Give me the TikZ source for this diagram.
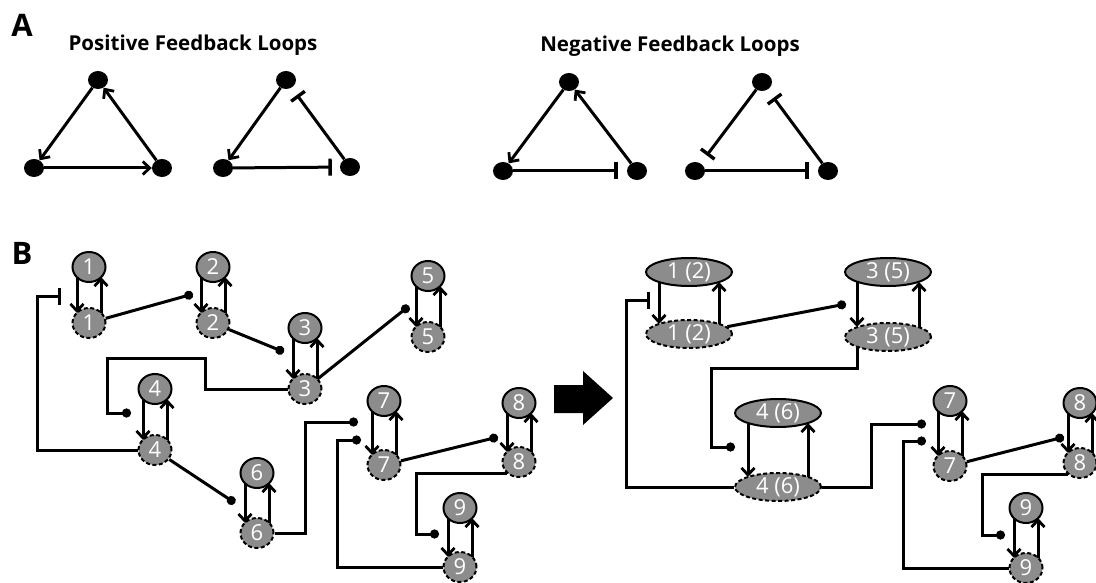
\documentclass[tikz,border=0pt]{standalone}
\usepackage{fontspec}
\setmainfont{Open Sans}
\usetikzlibrary{arrows.meta,shapes.geometric}
\definecolor{nodegray}{RGB}{140,140,140}

% feedback pair: arrow down on the left, arrow up on the right
\newcommand\fbpair[3]{%
  \draw[act] ([shift={(-#3,10)}]#1.center) -- ([shift={(-#3,-10)}]#2.center);
  \draw[act] ([shift={(#3,-10)}]#2.center) -- ([shift={(#3,10)}]#1.center);}

\begin{document}
\begin{tikzpicture}[x=1pt,y=-1pt,
  every node/.style={inner sep=0pt},
  blob/.style={ellipse, fill=black, minimum width=20pt, minimum height=18pt},
  gene/.style={ellipse, draw, line width=2pt, fill=nodegray, text=white,
    minimum width=33pt, minimum height=30pt, font=\fontsize{22}{22}\selectfont},
  prot/.style={gene, dash pattern=on 4pt off 2.5pt},
  wgene/.style={gene, minimum width=86pt, minimum height=28pt},
  wprot/.style={prot, minimum width=86pt, minimum height=28pt},
  act/.style={-{Straight Barb[length=7pt,width=13pt,line width=2.8pt]}, line width=3pt},
  inh/.style={-{Bar[width=17pt,line width=3.4pt]}, line width=3pt},
  bind/.style={-{Circle[length=9pt]}, line width=3pt},
  ttl/.style={font=\fontsize{20.5}{21}\selectfont\bfseries},
  panel/.style={font=\fontsize{31}{31}\selectfont\bfseries}]

\useasboundingbox (0,0) rectangle (1096,583);

% ---------- panel A ----------
\node[panel] (lA) at (22,25) {A};
\node[ttl] (tpos) at (193,45) {Positive Feedback Loops};
\node[ttl] (tneg) at (670,46) {Negative Feedback Loops};

\node[blob] (t1a) at (98,80) {};
\node[blob] (t1b) at (34,168) {};
\node[blob] (t1c) at (162,168) {};
\draw[act] (t1a) -- (t1b);
\draw[act] (t1b) -- (t1c);
\draw[act] (t1c) -- (t1a);

\node[blob] (t2a) at (286,80) {};
\node[blob] (t2b) at (223,168) {};
\node[blob] (t2c) at (350,167) {};
\draw[act] (t2a) -- (t2b);
\draw[inh, shorten >=8pt] (t2b) -- (t2c);
\draw[inh, shorten >=9pt] (t2c) -- (t2a);

\node[blob] (t3a) at (569,82) {};
\node[blob] (t3b) at (503,171) {};
\node[blob] (t3c) at (637,171) {};
\draw[act] (t3a) -- (t3b);
\draw[inh, shorten >=9pt] (t3b) -- (t3c);
\draw[act] (t3c) -- (t3a);

\node[blob] (t4a) at (762,82) {};
\node[blob] (t4b) at (695,171) {};
\node[blob] (t4c) at (828,171) {};
\draw[inh, shorten >=10pt] (t4a) -- (t4b);
\draw[inh, shorten >=9pt] (t4b) -- (t4c);
\draw[inh, shorten >=10pt] (t4c) -- (t4a);

% ---------- panel B, full network ----------
\node[panel] (lB) at (22,253) {B};

\node[gene] (a1) at (89,267) {1};  \node[prot] (b1) at (89,323) {1};
\node[gene] (a2) at (213,267) {2}; \node[prot] (b2) at (213,323) {2};
\node[gene] (a3) at (305,328) {3}; \node[prot] (b3) at (305,389) {3};
\node[gene] (a4) at (155,389) {4}; \node[prot] (b4) at (155,450) {4};
\node[gene] (a5) at (428,276) {5}; \node[prot] (b5) at (428,337) {5};
\node[gene] (a6) at (257,473) {6}; \node[prot] (b6) at (257,533) {6};
\node[gene] (a7) at (384,401) {7}; \node[prot] (b7) at (384,465) {7};
\node[gene] (a8) at (519,403) {8}; \node[prot] (b8) at (519,462) {8};
\node[gene] (a9) at (460,508) {9}; \node[prot] (b9) at (460,567) {9};

\fbpair{a1}{b1}{12} \fbpair{a2}{b2}{12} \fbpair{a3}{b3}{12}
\fbpair{a4}{b4}{12} \fbpair{a5}{b5}{12} \fbpair{a6}{b6}{12}
\fbpair{a7}{b7}{12} \fbpair{a8}{b8}{12} \fbpair{a9}{b9}{12}

\coordinate (bar1) at (61,296);
\coordinate (d12) at (193,294);
\coordinate (d23) at (284,352);
\coordinate (d35) at (409,306);
\coordinate (d34) at (131,413);
\coordinate (d46) at (235,503);
\coordinate (d67) at (358,422);
\coordinate (d97) at (361,440);
\coordinate (d78) at (498,437);
\coordinate (d89) at (439,534);

\draw[inh] (b4.west) -| (37,296) -- (bar1);
\draw[bind] (b1) -- (d12);
\draw[bind] (b2) -- (d23);
\draw[bind] (b3) -- (d35);
\draw[bind] (b3.west) -| (205,358) -| (107,413) -- (d34);
\draw[bind] (b4) -- (d46);
\draw[bind] (b6.east) -| (305,422) -- (d67);
\draw[bind] (b9.west) -| (337,440) -- (d97);
\draw[bind] (b7) -- (d78);
\draw[bind] (b8.south west) -| (416,534) -- (d89);

% ---------- block arrow ----------
\fill (554,385) -- (583,385) -- (583,371) -- (613,398) -- (583,425)
  -- (583,413) -- (554,413) -- cycle;

% ---------- panel B, reduced network ----------
\node[wgene] (A12) at (689,272) {1 (2)}; \node[wprot] (B12) at (689,334) {1 (2)};
\node[wgene] (A35) at (888,272) {3 (5)}; \node[wprot] (B35) at (888,337) {3 (5)};
\node[wgene] (A46) at (778,413) {4 (6)}; \node[wprot] (B46) at (778,487) {4 (6)};
\node[gene] (R7a) at (950,401) {7};  \node[prot] (R7b) at (950,466) {7};
\node[gene] (R8a) at (1080,403) {8}; \node[prot] (R8b) at (1080,463) {8};
\node[gene] (R9a) at (1026,508) {9}; \node[prot] (R9b) at (1026,568) {9};

\fbpair{A12}{B12}{30} \fbpair{A35}{B35}{31} \fbpair{A46}{B46}{30}
\fbpair{R7a}{R7b}{12} \fbpair{R8a}{R8b}{12} \fbpair{R9a}{R9b}{12}

\coordinate (bar2) at (650,300);
\coordinate (D13) at (846,304);
\coordinate (D34) at (735,447);
\coordinate (D67) at (926,424);
\coordinate (D97) at (926,441);
\coordinate (D78) at (1064,437);
\coordinate (D89) at (1005,535);

\draw[inh] (B46.west) -| (626,300) -- (bar2);
\draw[bind] (B12) -- (D13);
\draw[bind] ([shift={(-31,9)}]B35.center) |- (711,368) |- (D34);
\draw[bind] (B46.east) -| (871,424) -- (D67);
\draw[bind] (R9b.west) -| (903,441) -- (D97);
\draw[bind] (R7b) -- (D78);
\draw[bind] (R8b.south west) -| (982,535) -- (D89);
\end{tikzpicture}
\end{document}
